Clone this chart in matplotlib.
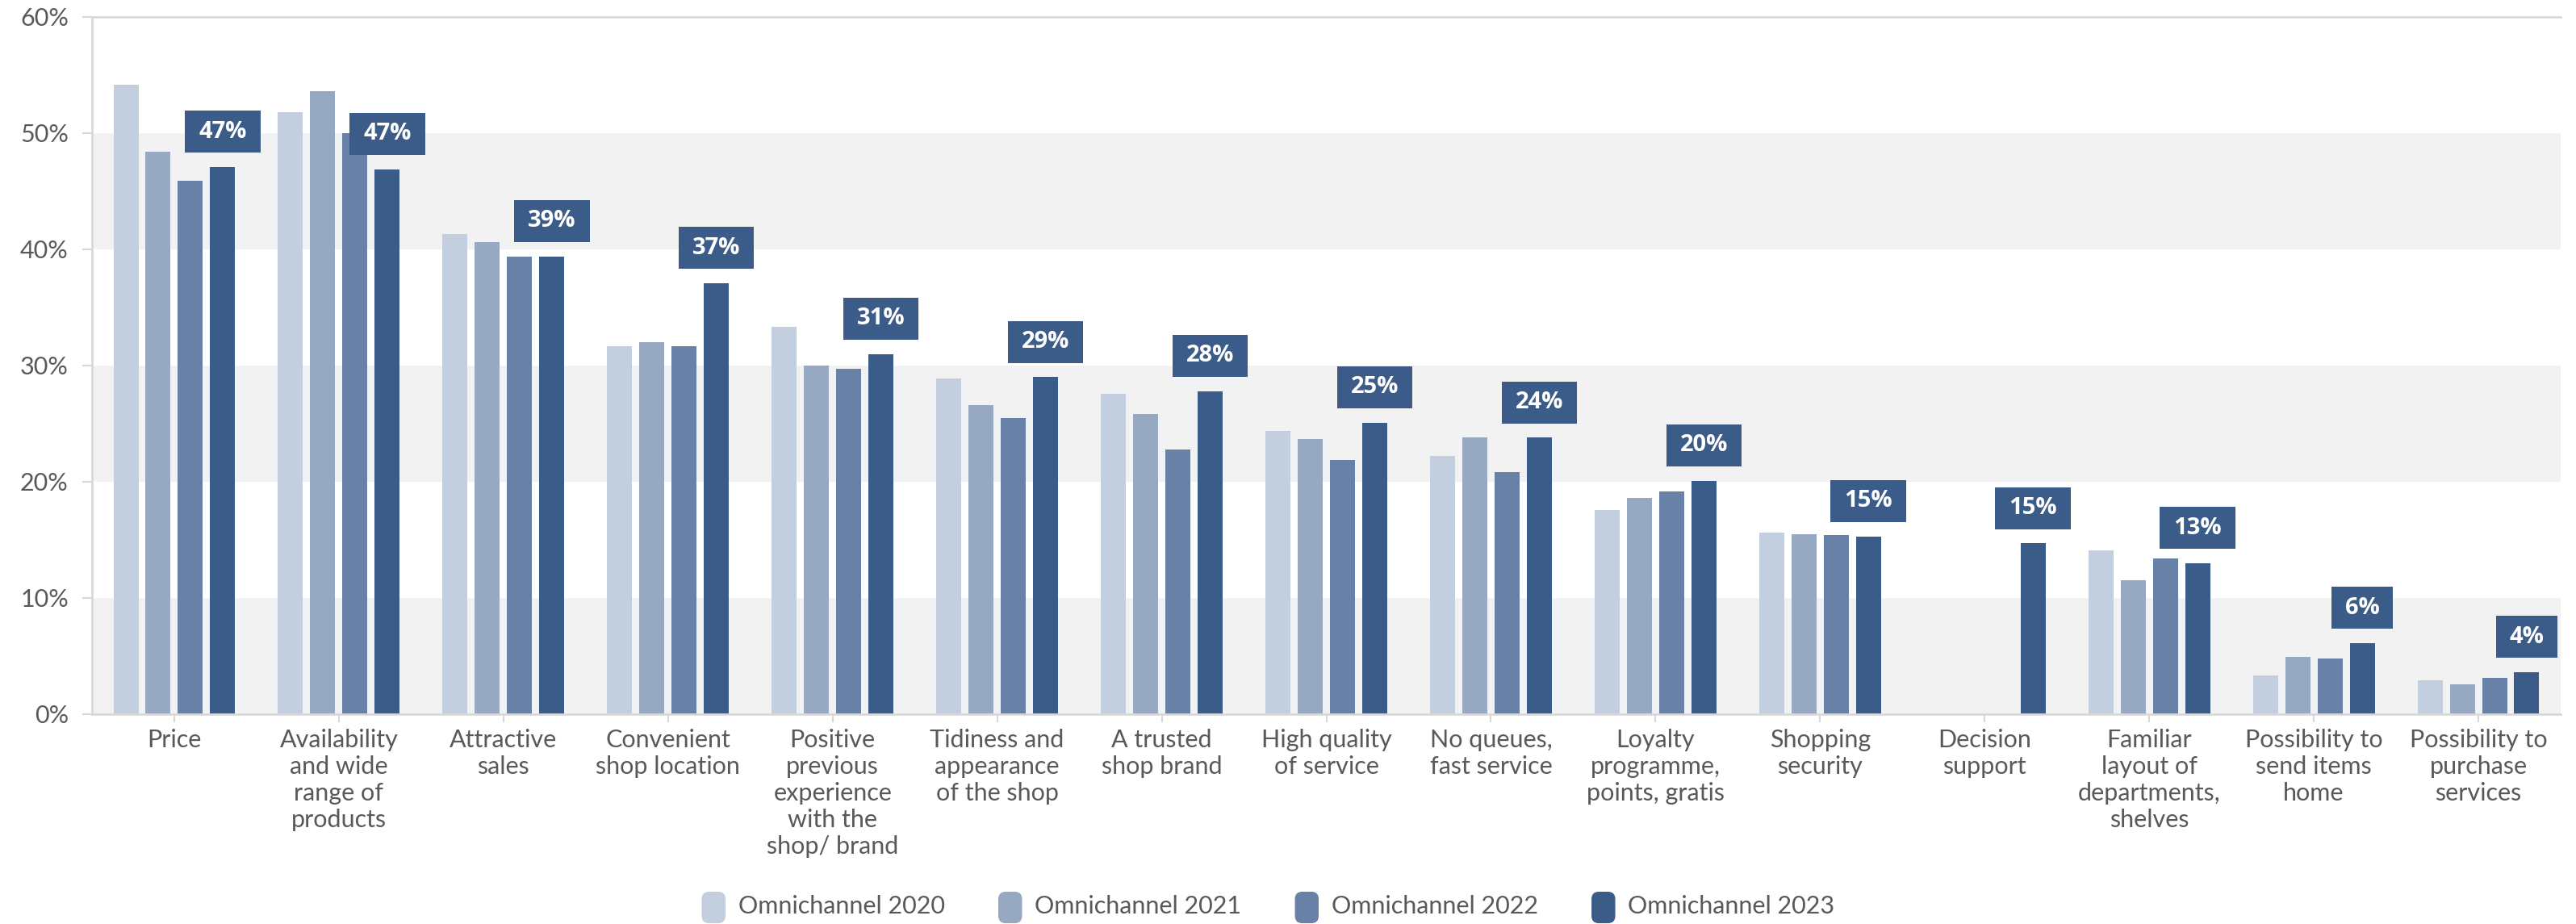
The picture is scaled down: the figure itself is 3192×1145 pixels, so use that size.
import numpy as np
import matplotlib
matplotlib.use("Agg")
import matplotlib.pyplot as plt
from matplotlib.patches import FancyBboxPatch, Patch
from matplotlib.legend_handler import HandlerPatch
from matplotlib.path import Path

categories = [
    "Price",
    "Availability\nand wide\nrange of\nproducts",
    "Attractive\nsales",
    "Convenient\nshop location",
    "Positive\nprevious\nexperience\nwith the\nshop/ brand",
    "Tidiness and\nappearance\nof the shop",
    "A trusted\nshop brand",
    "High quality\nof service",
    "No queues,\nfast service",
    "Loyalty\nprogramme,\npoints, gratis",
    "Shopping\nsecurity",
    "Decision\nsupport",
    "Familiar\nlayout of\ndepartments,\nshelves",
    "Possibility to\nsend items\nhome",
    "Possibility to\npurchase\nservices",
]

series_names = ["Omnichannel 2020", "Omnichannel 2021",
                "Omnichannel 2022", "Omnichannel 2023"]

v2020 = [54.2, 51.8, 41.3, 31.7, 33.3, 28.9, 27.6, 24.4, 22.2, 17.6,
         15.6, np.nan, 14.1, 3.3, 2.9]
v2021 = [48.4, 53.6, 40.6, 32.0, 30.0, 26.6, 25.8, 23.7, 23.8, 18.6,
         15.5, np.nan, 11.5, 4.9, 2.6]
v2022 = [45.9, 50.0, 39.4, 31.7, 29.7, 25.5, 22.8, 21.9, 20.8, 19.2,
         15.4, np.nan, 13.4, 4.8, 3.1]
v2023 = [47.1, 46.9, 39.4, 37.1, 31.0, 29.0, 27.8, 25.1, 23.8, 20.1,
         15.3, 14.7, 13.0, 6.1, 3.6]

colors = ["#c3cedf", "#97a8c3", "#6881a6", "#3b5c88"]
label_color = "#3b5c88"
text_color = "#595959"
line_color = "#d9d9d9"

plt.rcParams['font.family'] = ['Lato', 'DejaVu Sans']

fig = plt.figure(figsize=(31.92, 11.45), dpi=100)
ax = fig.add_axes([114 / 3192, 1 - 885 / 1145,
                   (3173 - 114) / 3192, (885 - 21) / 1145])

# alternating background bands
for lo in (0, 20, 40):
    ax.axhspan(lo, lo + 10, color="#f2f2f2", zorder=0, lw=0)

x = np.arange(len(categories))
pitch = 0.196
width = 0.152
all_vals = [v2020, v2021, v2022, v2023]
for k, (vals, name, c) in enumerate(zip(all_vals, series_names, colors)):
    ax.bar(x + (k - 1.5) * pitch, vals, width=width, color=c,
           label=name, zorder=2)


def label_box(x0, y0, width, height, mutation_size):
    # fixed 52 px tall box, 17 px side padding (pixels at dpi 100)
    cy = y0 + height / 2
    xa, xb = x0 - 17, x0 + width + 17
    ya, yb = cy - 26, cy + 26
    return Path([(xa, ya), (xb, ya), (xb, yb), (xa, yb), (xa, ya)],
                closed=True)


# value labels above the 2023 bars
for xi, v in zip(x, v2023):
    ax.annotate(f"{v:.0f}%", xy=(xi + 1.5 * pitch, v),
                xytext=(0, 31.5), textcoords="offset points",
                ha="center", va="center", fontsize=21,
                fontweight="bold", family="Open Sans", color="white",
                bbox=dict(boxstyle=label_box, fc=label_color, ec="none"),
                zorder=4)

ax.set_xlim(-0.5, len(categories) - 0.5)
ax.set_ylim(0, 60)
ax.set_yticks(np.arange(0, 61, 10))
ax.set_yticklabels([f"{t}%" for t in range(0, 61, 10)])
ax.set_xticks(x)
ax.set_xticklabels(categories, linespacing=1.22)

ax.tick_params(axis="y", length=9, width=1.5, color=line_color,
               labelsize=22, labelcolor=text_color, pad=12)
ax.tick_params(axis="x", length=7, width=1.5, color=line_color,
               labelsize=22, labelcolor=text_color, pad=6)

for side in ("left", "bottom", "top"):
    ax.spines[side].set_color(line_color)
    ax.spines[side].set_linewidth(2)
ax.spines["right"].set_visible(False)


def rounded_handle(legend, orig_handle, xdescent, ydescent,
                   width, height, fontsize):
    return FancyBboxPatch((-xdescent + 2, -ydescent - 5), width - 4,
                          height + 6,
                          boxstyle="round,pad=0,rounding_size=6")


handles = [Patch(color=c) for c in colors]
fig.legend(handles, series_names, loc="center", ncol=4, frameon=False,
           bbox_to_anchor=(0.492, 0.02), fontsize=22,
           labelcolor=text_color, handlelength=1.1, handleheight=1.1,
           handletextpad=0.45, columnspacing=2.1,
           handler_map={Patch: HandlerPatch(patch_func=rounded_handle)})

fig.savefig("out.png", dpi=100)
